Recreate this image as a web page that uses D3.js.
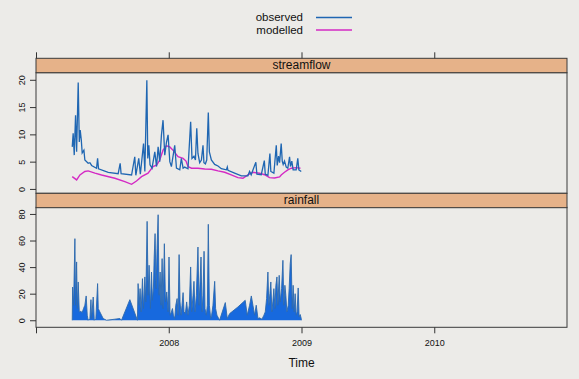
<!DOCTYPE html>
<html>
<head>
<meta charset="utf-8">
<script src="https://cdn.jsdelivr.net/npm/d3@7"></script>
<style>
  body { margin: 0; background: #ecebe8; }
  text { font-family: "Liberation Sans", Arial, sans-serif; fill: #111; }
</style>
</head>
<body>
<svg width="579" height="379"></svg>
<script>
// time in decimal years, like an R ts/zoo index
const observed = [
  [2007.273, 7.7], [2007.280, 10.2], [2007.288, 6.2], [2007.298, 13.5], [2007.306, 6.8],
  [2007.318, 19.5], [2007.326, 8.6], [2007.333, 10.8], [2007.341, 9.0], [2007.348, 6.6],
  [2007.361, 7.1], [2007.368, 5.3], [2007.393, 4.7], [2007.406, 4.8], [2007.419, 4.3],
  [2007.456, 3.8], [2007.464, 5.6], [2007.471, 3.7], [2007.544, 3.05], [2007.619, 2.8],
  [2007.634, 4.7], [2007.641, 2.8], [2007.720, 2.55], [2007.744, 5.9], [2007.752, 2.5],
  [2007.774, 5.6], [2007.786, 2.7], [2007.810, 8.3], [2007.820, 3.2], [2007.835, 19.9],
  [2007.842, 5.6], [2007.850, 8.0], [2007.859, 4.4], [2007.874, 3.8], [2007.895, 6.8],
  [2007.908, 4.1], [2007.920, 7.7], [2007.932, 5.0], [2007.945, 9.9], [2007.957, 12.6],
  [2007.970, 6.2], [2007.983, 8.6], [2007.995, 9.9], [2008.008, 5.0], [2008.020, 4.1],
  [2008.045, 8.0], [2008.058, 3.8], [2008.083, 3.5], [2008.095, 5.6], [2008.108, 3.8],
  [2008.120, 4.0], [2008.145, 3.7], [2008.165, 12.3], [2008.175, 5.6], [2008.190, 6.0],
  [2008.201, 5.3], [2008.211, 11.1], [2008.220, 6.5], [2008.233, 4.8], [2008.246, 5.3],
  [2008.258, 8.0], [2008.265, 4.8], [2008.276, 4.6], [2008.286, 5.3], [2008.298, 14.0],
  [2008.306, 6.8], [2008.321, 5.3], [2008.346, 4.5], [2008.371, 4.2], [2008.396, 3.7],
  [2008.434, 3.5], [2008.441, 4.0], [2008.446, 3.4], [2008.496, 2.9], [2008.547, 2.4],
  [2008.596, 2.4], [2008.609, 3.2], [2008.621, 2.6], [2008.656, 4.9], [2008.664, 2.7],
  [2008.697, 2.6], [2008.720, 5.2], [2008.727, 2.7], [2008.747, 2.5], [2008.762, 6.5],
  [2008.769, 3.2], [2008.792, 2.9], [2008.810, 8.0], [2008.817, 4.3], [2008.827, 6.0],
  [2008.835, 4.8], [2008.847, 8.3], [2008.855, 5.1], [2008.862, 4.5], [2008.872, 5.1],
  [2008.885, 4.0], [2008.897, 3.8], [2008.910, 5.9], [2008.917, 4.1], [2008.927, 5.1],
  [2008.937, 3.5], [2008.960, 3.5], [2008.972, 5.6], [2008.980, 3.5], [2008.998, 3.2]
];

const modelled = [
  [2007.273, 2.25], [2007.306, 1.65], [2007.331, 2.56], [2007.368, 3.2], [2007.393, 3.3],
  [2007.444, 2.9], [2007.494, 2.56], [2007.594, 1.95], [2007.669, 1.33], [2007.720, 0.85],
  [2007.757, 1.46], [2007.795, 2.25], [2007.844, 2.9], [2007.882, 4.1], [2007.910, 4.4],
  [2007.932, 5.3], [2007.957, 7.1], [2007.983, 7.9], [2008.008, 7.7], [2008.032, 7.1],
  [2008.070, 5.9], [2008.108, 5.6], [2008.130, 5.1], [2008.145, 4.1], [2008.171, 3.8],
  [2008.220, 3.8], [2008.271, 3.65], [2008.321, 3.6], [2008.371, 3.3], [2008.421, 3.05],
  [2008.471, 2.56], [2008.521, 2.07], [2008.559, 1.95], [2008.596, 2.56], [2008.634, 3.05],
  [2008.684, 2.87], [2008.722, 2.6], [2008.759, 2.07], [2008.797, 2.0], [2008.835, 2.2],
  [2008.847, 2.56], [2008.872, 3.05], [2008.897, 3.5], [2008.923, 3.8], [2008.960, 3.9],
  [2008.992, 3.8]
];

const rainfall = [
  [2007.273, 0], [2007.276, 25], [2007.283, 11.3], [2007.293, 61.4], [2007.298, 11.3],
  [2007.306, 43.9], [2007.311, 8.8], [2007.318, 28.8], [2007.326, 6.3], [2007.338, 6.8],
  [2007.348, 5.8], [2007.358, 8.8], [2007.368, 11.3], [2007.378, 18.3], [2007.386, 3.8],
  [2007.393, 0], [2007.406, 1.3], [2007.414, 15.5], [2007.419, 1.3], [2007.431, 17.5],
  [2007.439, 0], [2007.451, 1.3], [2007.464, 27.6], [2007.469, 8.8], [2007.481, 6.3],
  [2007.506, 1.3], [2007.531, 0], [2007.594, 0.8], [2007.632, 1.3], [2007.644, 0],
  [2007.707, 15.5], [2007.764, 0], [2007.769, 27.6], [2007.777, 11.3], [2007.784, 23.8],
  [2007.792, 6.3], [2007.802, 31.3], [2007.810, 8.8], [2007.820, 32.6], [2007.827, 13.8],
  [2007.837, 74.4], [2007.845, 18.8], [2007.852, 41.4], [2007.862, 8.8], [2007.870, 36.3],
  [2007.877, 15], [2007.885, 25], [2007.890, 46.4], [2007.897, 65.2], [2007.905, 23.8],
  [2007.912, 53.9], [2007.920, 79.4], [2007.927, 18.8], [2007.935, 36.3], [2007.942, 11.3],
  [2007.950, 46.4], [2007.957, 8.8], [2007.967, 57.6], [2007.975, 13.8], [2007.985, 21.3],
  [2007.995, 6.3], [2008.002, 47.6], [2008.010, 3.8], [2008.020, 6.3], [2008.028, 8.8],
  [2008.035, 3.8], [2008.045, 1.3], [2008.053, 11.3], [2008.063, 16.3], [2008.070, 3.8],
  [2008.078, 49.4], [2008.085, 13.8], [2008.093, 3.8], [2008.100, 11.3], [2008.108, 20.8],
  [2008.115, 6.3], [2008.125, 5], [2008.135, 13.8], [2008.145, 3.8], [2008.155, 11.3],
  [2008.165, 40.1], [2008.173, 6.3], [2008.183, 18.8], [2008.190, 29.3], [2008.198, 6.3],
  [2008.208, 18.8], [2008.220, 55.1], [2008.228, 11.3], [2008.236, 28.8], [2008.243, 47.6],
  [2008.251, 6.3], [2008.258, 18.8], [2008.266, 51.9], [2008.273, 8.8], [2008.283, 3.8],
  [2008.291, 11.3], [2008.298, 72.2], [2008.306, 11.3], [2008.316, 1.3], [2008.323, 3.8],
  [2008.333, 11.3], [2008.346, 29.3], [2008.353, 8.8], [2008.363, 3.8], [2008.383, 0],
  [2008.426, 13.3], [2008.441, 1.3], [2008.459, 5], [2008.521, 10], [2008.576, 15],
  [2008.591, 3.8], [2008.609, 11.3], [2008.622, 18.3], [2008.634, 11.3], [2008.647, 3.8],
  [2008.659, 11.3], [2008.672, 1.3], [2008.684, 1.8], [2008.702, 0.8], [2008.717, 3.8],
  [2008.727, 6.3], [2008.737, 16.3], [2008.747, 36.3], [2008.754, 11.3], [2008.762, 20],
  [2008.769, 28.8], [2008.777, 6.3], [2008.784, 13.8], [2008.792, 23.8], [2008.800, 8.8],
  [2008.807, 26.3], [2008.815, 32.6], [2008.822, 11.3], [2008.832, 33.8], [2008.840, 13.8],
  [2008.850, 23.8], [2008.860, 45.1], [2008.867, 11.3], [2008.875, 26.3], [2008.882, 18.8],
  [2008.890, 6.3], [2008.900, 11.3], [2008.907, 23.8], [2008.915, 42.6], [2008.922, 49.4],
  [2008.930, 8.8], [2008.937, 26.3], [2008.945, 6.3], [2008.952, 20], [2008.960, 3.8],
  [2008.967, 6.3], [2008.975, 24.3], [2008.982, 2.5], [2008.990, 4.3], [2008.998, 1.3],
  [2008.999, 0]
];

const timeTicks = [2007, 2008, 2009, 2010];
const flowTicks = [0, 5, 10, 15, 20];
const rainTicks = [0, 20, 40, 60, 80];
const seriesNames = ["observed", "modelled"];
const seriesColors = ["#1f66b2", "#d42ac4"];

const svg = d3.select("svg");
const left = 36, right = 567;
const stripH = 14.4;
const strip1 = 58.3, panel1Top = strip1 + stripH, panel1Bot = 193.3;
const strip2 = panel1Bot, panel2Top = strip2 + 14, panel2Bot = 327.3;

svg.append("rect").attr("width", 579).attr("height", 379).attr("fill", "#ecebe8");

var x = d3.scaleLinear().domain([2007, 2011]).range([left, right]);
var yFlow = d3.scaleLinear().domain([-0.8, 21.3]).range([panel1Bot, panel1Top]);
var yRain = d3.scaleLinear().domain([-5.3, 85]).range([panel2Bot, panel2Top]);

// rainfall polygon
var area = d3.area()
  .x(function (d) { return x(d[0]); })
  .y0(yRain(0))
  .y1(function (d) { return yRain(d[1]); });
svg.append("path").datum(rainfall)
  .attr("d", area)
  .attr("fill", "#1769de");
svg.append("path").datum(rainfall)
  .attr("d", d3.line().x(function (d) { return x(d[0]); }).y(function (d) { return yRain(d[1]); }))
  .attr("fill", "none")
  .attr("stroke", "#2c69ad")
  .attr("stroke-width", 0.9);

// streamflow lines
var flowLine = d3.line()
  .x(function (d) { return x(d[0]); })
  .y(function (d) { return yFlow(d[1]); });
svg.append("path").datum(modelled)
  .attr("d", flowLine)
  .attr("fill", "none")
  .attr("stroke", seriesColors[1])
  .attr("stroke-width", 1.4);
svg.append("path").datum(observed)
  .attr("d", flowLine)
  .attr("fill", "none")
  .attr("stroke", seriesColors[0])
  .attr("stroke-width", 1.3);

// panel borders and strips
[[panel1Top, panel1Bot], [panel2Top, panel2Bot]].forEach(function (p) {
  svg.append("rect")
    .attr("x", left).attr("y", p[0])
    .attr("width", right - left).attr("height", p[1] - p[0])
    .attr("fill", "none").attr("stroke", "#3a3a3a").attr("stroke-width", 1);
});
[[strip1, "streamflow"], [strip2, "rainfall"]].forEach(function (s) {
  svg.append("rect")
    .attr("x", left).attr("y", s[0])
    .attr("width", right - left).attr("height", stripH)
    .attr("fill", "#e6b289").attr("stroke", "#3a3a3a").attr("stroke-width", 1);
  svg.append("text")
    .attr("x", (left + right) / 2).attr("y", s[0] + 11)
    .attr("text-anchor", "middle")
    .style("font-size", "12px")
    .text(s[1]);
});

// axes
function styleAxis(g) {
  g.select(".domain").remove();
  g.selectAll("line").attr("stroke", "#333");
  g.selectAll("text").style("font-size", "9px").attr("fill", "#111");
}

svg.append("g")
  .attr("transform", "translate(0," + strip1 + ")")
  .call(d3.axisTop(x).tickValues(timeTicks).tickSize(6).tickFormat(""))
  .call(styleAxis);

svg.append("g")
  .attr("transform", "translate(0," + panel2Bot + ")")
  .call(d3.axisBottom(x).tickValues(timeTicks).tickSize(6).tickPadding(6)
    .tickFormat(function (d) { return d === 2007 ? "" : d; }))
  .call(styleAxis);

[[yFlow, flowTicks], [yRain, rainTicks]].forEach(function (a) {
  svg.append("g")
    .attr("transform", "translate(" + left + ",0)")
    .call(d3.axisLeft(a[0]).tickValues(a[1]).tickSize(6))
    .call(styleAxis)
    .selectAll("text")
    .attr("x", 0).attr("dy", null)
    .attr("text-anchor", "middle")
    .attr("transform", "translate(-11,0) rotate(-90)");
});

svg.selectAll("g").attr("font-family", null);

// legend
seriesNames.forEach(function (name, i) {
  svg.append("text")
    .attr("x", 303).attr("y", 21 + i * 12.5)
    .attr("text-anchor", "end")
    .style("font-size", "11.5px")
    .text(name);
  svg.append("line")
    .attr("x1", 316).attr("x2", 352)
    .attr("y1", 17.5 + i * 12.5).attr("y2", 17.5 + i * 12.5)
    .attr("stroke", seriesColors[i])
    .attr("stroke-width", 1.5);
});

svg.append("text")
  .attr("x", (left + right) / 2).attr("y", 367)
  .attr("text-anchor", "middle")
  .style("font-size", "12px")
  .text("Time");
</script>
</body>
</html>
